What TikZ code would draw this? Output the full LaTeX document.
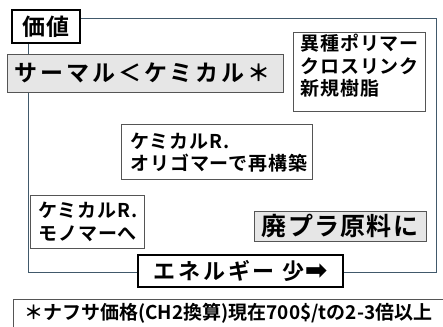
\documentclass[tikz,border=0pt]{standalone}
\usepackage{fontspec}
\setmainfont{Noto Sans CJK JP}[BoldFont={* Bold}]
\newfontfamily\jpa{Noto Sans CJK JP}[BoldFont={* Bold}, LetterSpace=5]
\newfontfamily\jpb{Noto Sans CJK JP}[BoldFont={* Bold}, LetterSpace=13]
\newfontfamily\symfont{DejaVu Sans}
\definecolor{framecol}{HTML}{41596B}
\definecolor{boxgray}{HTML}{E6E6E6}
\definecolor{edgegray}{HTML}{555555}
\tikzset{
  thickbox/.style={draw=black, line width=2.2pt, fill=white, inner sep=0pt},
  thinbox/.style={draw=edgegray, line width=0.9pt, fill=white, inner sep=0pt},
  graybox/.style={draw=edgegray, line width=0.9pt, fill=boxgray, inner sep=0pt},
  txt/.style={inner sep=0pt, align=left, anchor=west},
  small/.style={font=\fontsize{19}{#1}\jpa\bfseries},
}
\begin{document}
\begin{tikzpicture}[x=1pt,y=-1pt]
\useasboundingbox (0,0) rectangle (443,326);
% main frame
\node[draw=framecol, line width=1pt, minimum width=408pt, minimum height=253pt, inner sep=0pt] (frame) at (232,145.5) {};
% footnote box (cut by picture edge)
\begin{scope}
\clip (0,0) rectangle (443,326);
\node[draw=edgegray, line width=0.9pt, fill=white, minimum width=440pt, minimum height=40pt, inner sep=0pt, anchor=north west] (note) at (13,299) {};
\end{scope}
\node[txt, font=\fontsize{19}{22}\selectfont\bfseries] (notetext) at (24,313) {＊ナフサ価格(CH2換算)現在700\$/tの2-3倍以上};
% value box
\node[thickbox, minimum width=68pt, minimum height=33pt] (kachi) at (46,26.5) {};
\node[inner sep=0pt, font=\fontsize{23}{26}\jpa\bfseries] (kachitext) at (kachi.center) {価値};
% thermal < chemical
\node[graybox, minimum width=276pt, minimum height=38pt] (thermal) at (145,73) {};
\node[txt, font=\fontsize{23}{26}\jpb\bfseries] (thermaltext) at (14,73) {サーマル＜ケミカル＊};
% heterogeneous polymers
\node[thinbox, minimum width=132pt, minimum height=79pt] (ishu) at (359,71.5) {};
\node[txt, small=22.5] (ishutext) at (300,66) {異種ポリマー\\クロスリンク\\新規樹脂};
% oligomer
\node[thinbox, minimum width=191pt, minimum height=55pt] (oligo) at (216.5,151.5) {};
\node[txt, small=22] (oligotext) at (130,152.5) {ケミカルR.\\オリゴマーで再構築};
% monomer
\node[thinbox, minimum width=114pt, minimum height=53pt] (mono) at (87,221.5) {};
\node[txt, small=23] (monotext) at (38,222) {ケミカルR.\\モノマーへ};
% waste plastic
\node[graybox, minimum width=172pt, minimum height=30pt] (haipura) at (340,226) {};
\node[inner sep=0pt, font=\fontsize{25}{27}\jpa\bfseries] (haipuratext) at (haipura.center) {廃プラ原料に};
% energy
\node[thickbox, minimum width=205pt, minimum height=32pt] (energy) at (240.5,271) {};
\node[inner sep=0pt, font=\fontsize{22}{25}\jpb\bfseries] (energytext) at (energy.center) {エネルギー 少{\symfont\fontsize{27}{27}\selectfont\bfseries ➡}};
\end{tikzpicture}
\end{document}
